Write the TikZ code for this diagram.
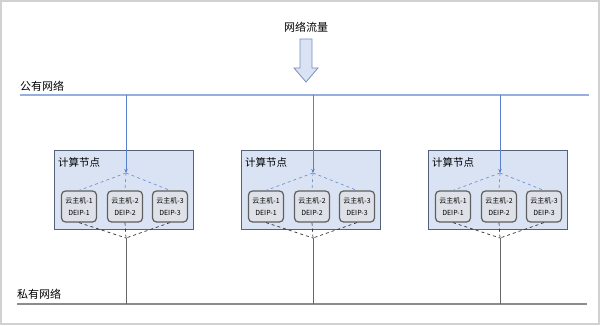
\documentclass[tikz,border=0pt]{standalone}
\usepackage{fontspec}
\setmainfont{Noto Sans CJK SC}
\usetikzlibrary{
  arrows.meta,
  positioning,
  calc
}
\definecolor{pubblue}{RGB}{150,175,222}
\definecolor{linkblue}{RGB}{88,128,205}
\definecolor{boxfill}{RGB}{218,227,243}
\definecolor{boxedge}{RGB}{85,98,122}
\definecolor{vmfill}{RGB}{222,226,232}
\definecolor{vmedge}{RGB}{95,95,95}
\definecolor{arrowedge}{RGB}{120,140,190}

\begin{document}
\begin{tikzpicture}[
  x=1pt, y=-1pt,
  frame/.style={draw=black!18, line width=2pt},
  netline/.style={line width=1.6pt, draw=#1},
  netlabel/.style={
    font=\fontsize{11}{13}\selectfont,
    inner sep=0pt,
    anchor=south west,
  },
  flowarrow/.style={draw=arrowedge, fill=boxfill, line width=0.8pt},
  nodebox/.style={
    rectangle,
    draw=boxedge,
    fill=boxfill,
    line width=1pt,
    minimum width=139pt,
    minimum height=78pt,
    inner sep=0pt,
  },
  boxlabel/.style={
    font=\fontsize{10.5}{12}\selectfont,
    inner sep=0pt,
    anchor=west,
  },
  vmbox/.style={
    rectangle,
    rounded corners=4pt,
    draw=vmedge,
    fill=vmfill,
    line width=1.2pt,
    minimum width=35pt,
    minimum height=31pt,
    align=center,
    font=\fontsize{7}{12}\selectfont,
    inner sep=0pt,
  },
  uplink/.style={draw=linkblue, line width=0.9pt, -{Stealth[length=4pt,width=3.5pt]}},
  fanup/.style={draw=linkblue!85, dashed, line width=0.7pt},
  fandown/.style={draw=black!80, dashed, line width=0.7pt},
  downlink/.style={draw=black!60, line width=1pt},
]

\useasboundingbox (0,0) rectangle (600,326);
\draw[frame] (1,1) rectangle (599,323.5);

% ── Traffic in ──
\node[font=\fontsize{11}{13}\selectfont, inner sep=0pt] (traffic) at (306,27) {网络流量};
\draw[flowarrow] (300,39) -- (312,39) -- (312,68) -- (318,68) -- (306,82)
  -- (294,68) -- (300,68) -- cycle;

% ── Public network ──
\coordinate (pubL) at (20,95);
\coordinate (pubR) at (589,95);
\draw[netline=pubblue] (pubL) -- (pubR);
\node[netlabel] (publabel) at (20,92) {公有网络};

% ── Private network ──
\coordinate (privL) at (17,304);
\coordinate (privR) at (587,304);
\draw[netline=black!45] (privL) -- (privR);
\node[netlabel] (privlabel) at (17,300) {私有网络};

% ── Compute nodes ──
\foreach \cx [count=\i] in {126,313,500} {
  \node[nodebox] (cn\i) at (\cx-2,190) {};
  \node[boxlabel] (cnlabel\i) at ($(cn\i.north west)+(4,12)$) {计算节点};
  \coordinate (pub\i) at (\cx,95);
  \coordinate (top\i) at (\cx,173);
  \coordinate (bot\i) at (\cx,238);
  \coordinate (priv\i) at (\cx,304);
  \draw[uplink] (pub\i) -- (top\i);
  \foreach \dx/\j in {-47/1, -1/2, 44/3} {
    \node[vmbox] (vm\i\j) at (\cx+\dx,206.5) {云主机-\j\\DEIP-\j};
    \draw[fanup] (top\i) -- (vm\i\j.north);
    \draw[fandown] (vm\i\j.south) -- (bot\i);
  }
  \draw[downlink] (bot\i) -- (priv\i);
}

\end{tikzpicture}
\end{document}
